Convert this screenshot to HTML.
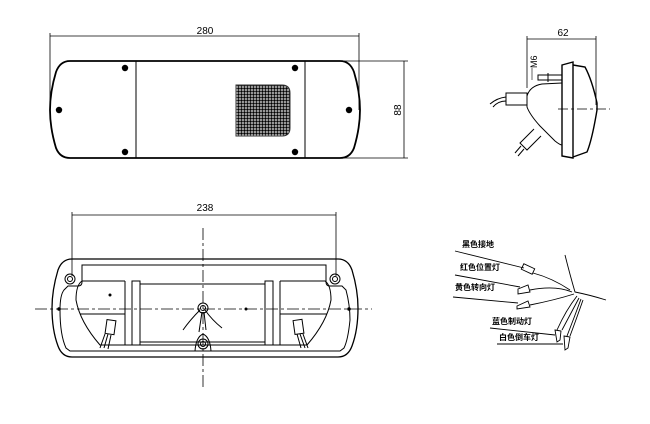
<!DOCTYPE html>
<html><head><meta charset="utf-8"><style>
html,body{margin:0;padding:0;background:#fff;width:650px;height:424px;overflow:hidden}
svg{display:block}
text{font-family:"Liberation Sans","Noto Sans CJK SC",sans-serif;fill:#000}
</style></head><body>
<svg width="650" height="424" viewBox="0 0 650 424" xmlns="http://www.w3.org/2000/svg">
<defs>
<pattern id="grid" width="3" height="3" patternUnits="userSpaceOnUse">
<rect width="3" height="3" fill="#fff"/><circle cx="1.5" cy="1.5" r="1.35" fill="#000"/>
</pattern>
</defs>
<g fill="none" stroke="#000" stroke-width="1">
<!-- TOP VIEW -->
<line x1="50" y1="36" x2="359" y2="36" stroke-width="0.8"/>
<line x1="50" y1="33" x2="50" y2="110" stroke-width="0.8"/>
<line x1="359" y1="33" x2="359" y2="110" stroke-width="0.8"/>
<path d="M70,61 L340,61 Q350,61 354,72 Q360,92 360,110 Q360,128 354,148 Q350,158 340,158 L70,158 Q60,158 56,148 Q50,128 50,110 Q50,92 56,72 Q60,61 70,61 Z" stroke-width="1.8"/>
<line x1="136" y1="61" x2="136" y2="158"/>
<line x1="305" y1="61" x2="305" y2="158"/>
<path d="M236,85 L282,85 Q290,85 290,93 L290,128 Q290,136 282,136 L236,136 Z" fill="url(#grid)" stroke="#333"/>
<line x1="340" y1="61" x2="408" y2="61" stroke-width="0.8"/>
<line x1="340" y1="158" x2="408" y2="158" stroke-width="0.8"/>
<line x1="404" y1="61" x2="404" y2="158" stroke-width="0.8"/>
</g>
<g fill="#000">
<circle cx="125" cy="68" r="3.2"/><circle cx="125" cy="152" r="3.2"/>
<circle cx="295" cy="68" r="3.2"/><circle cx="295" cy="152" r="3.2"/>
<circle cx="59" cy="110" r="3.2"/><circle cx="349" cy="110" r="3.2"/>
</g>
<text x="205" y="34" font-size="10" text-anchor="middle">280</text>
<text transform="translate(401,110) rotate(-90)" font-size="10" text-anchor="middle">88</text>

<!-- SIDE VIEW -->
<g fill="none" stroke="#000" stroke-width="1">
<line x1="527" y1="39" x2="596" y2="39" stroke-width="0.8"/>
<line x1="527" y1="36" x2="527" y2="88" stroke-width="0.8"/>
<line x1="596" y1="36" x2="596" y2="105" stroke-width="0.8"/>
<path d="M562,65 L573,62 L573,158 L562,156 Z" stroke-width="1.4"/>
<path d="M573,65 L585,67 Q592,80 597,103 L597,110 Q592,140 587,152 L573,157" stroke-width="1.4"/>
<line x1="558" y1="109" x2="610" y2="109" stroke-dasharray="10,3,3,3" stroke-width="0.8"/>
<path d="M562,83 L542,84 Q530,86 527,96 L527,107 Q530,115 540,126 L555,141 Q560,145 562,145"/>
<rect x="506" y="93" width="21" height="12"/>
<path d="M506,97 Q497,98 490,104 M506,101 Q498,101 493,107"/>
<path d="M534,129 L520,143 L527,150 L541,136"/>
<path d="M521,146 L515,153 M524,149 L518,156"/>
<rect x="538" y="75" width="24" height="5"/>
<line x1="548" y1="73" x2="548" y2="82"/>
<line x1="532" y1="68" x2="532" y2="80" stroke-width="0.6"/>
</g>
<text transform="translate(537,68) rotate(-90)" font-size="9">M6</text>
<text x="563" y="36" font-size="10" text-anchor="middle">62</text>

<!-- BOTTOM VIEW -->
<g fill="none" stroke="#000" stroke-width="1">
<line x1="72" y1="215" x2="336" y2="215" stroke-width="0.8"/>
<line x1="72" y1="212" x2="72" y2="276" stroke-width="0.8"/>
<line x1="336" y1="212" x2="336" y2="276" stroke-width="0.8"/>
<path d="M72,259 L338,259 Q348,259 352,270 Q358,290 358,308 Q358,330 352,346 Q348,357 338,357 L72,357 Q62,357 58,346 Q52,330 52,308 Q52,290 58,270 Q62,259 72,259 Z" stroke-width="1.3"/>
<path d="M82,265 L326,265 L326,282 Q326,286 330,286 L342,286 L346,290 Q350,305 350,320 Q348,340 344,348 L340,351 L70,351 L66,348 Q60,335 60,310 Q60,295 64,290 L68,286 L78,286 Q82,286 82,282 Z"/>
<path d="M125,281 L82,281 Q76,285 76,300 Q80,322 100,345 L125,345"/>
<line x1="80" y1="314" x2="125" y2="314"/>
<line x1="125" y1="281" x2="125" y2="345"/>
<rect x="132" y="281" width="8" height="64"/>
<rect x="140" y="284" width="125" height="58"/>
<rect x="265" y="281" width="8" height="64"/>
<path d="M280,281 L325,281 Q331,285 331,300 Q327,322 307,345 L280,345"/>
<line x1="280" y1="314" x2="327" y2="314"/>
<line x1="280" y1="281" x2="280" y2="345"/>
<line x1="125" y1="345" x2="280" y2="345"/>
<rect x="106" y="320" width="9" height="14" transform="rotate(8 110 327)"/>
<path d="M105,334 L100,348 M108,334 L104,348 M111,335 L108,349"/>
<rect x="294" y="320" width="9" height="14" transform="rotate(-8 298 327)"/>
<path d="M297,334 L301,348 M300,334 L305,348 M303,334 L308,348"/>
<path d="M195,351 Q196,337 203,334 Q210,337 211,351"/>
<path d="M200,310 Q190,320 183,330 M205,310 Q212,320 222,328 M202,312 L199,332 M204,312 L206,330"/>
<line x1="35" y1="309" x2="372" y2="309" stroke-dasharray="12,3,3,3" stroke-width="0.8"/>
<line x1="203" y1="228" x2="203" y2="388" stroke-dasharray="12,3,3,3" stroke-width="0.8"/>
<circle cx="70" cy="279" r="5"/><circle cx="70" cy="279" r="2.5"/>
<circle cx="335" cy="279" r="5"/><circle cx="335" cy="279" r="2.5"/>
<circle cx="203" cy="344" r="5"/><circle cx="203" cy="344" r="2.5"/>
<circle cx="203" cy="308" r="5"/><circle cx="203" cy="308" r="2.5"/>
</g>
<g fill="#000"><circle cx="110" cy="295" r="1.5"/><circle cx="246" cy="309" r="1.5"/><circle cx="59" cy="309" r="1.8"/><circle cx="349" cy="309" r="1.8"/></g>
<text x="205" y="211" font-size="10" text-anchor="middle">238</text>

<!-- WIRING -->
<g fill="none" stroke="#000" stroke-width="0.9">
<line x1="455" y1="251" x2="524" y2="268"/>
<line x1="455" y1="275" x2="520" y2="287"/>
<line x1="453" y1="297" x2="518" y2="303"/>
<line x1="490" y1="328" x2="555" y2="335"/>
<line x1="497" y1="344" x2="563" y2="344"/>
<rect x="522" y="266" width="12" height="6" transform="rotate(25 528 269)"/>
<path d="M518,289 L528,285 L530,292 L518,294 Z"/>
<path d="M517,306 L528,301 L530,307 L517,309 Z"/>
<path d="M533,273 Q552,278 570,290 M530,290 Q555,285 572,292 M530,305 Q555,300 574,294"/>
<path d="M577,296 Q566,310 557,330 M579,298 Q570,315 562,330 M581,299 Q574,318 567,336 M583,300 Q576,320 570,336"/>
<path d="M555,330 L561,331 L560,340 L557,342 Z M564,336 L570,337 L568,348 L565,350 Z"/>
<path d="M565,255 Q570,275 575,292 Q590,295 606,300"/>
</g>
<g font-size="8" font-weight="bold">
<text x="462" y="247">黑色接地</text>
<text x="460" y="270">红色位置灯</text>
<text x="455" y="290">黄色转向灯</text>
<text x="492" y="324">蓝色制动灯</text>
<text x="499" y="340">白色倒车灯</text>
</g>
</svg>
</body></html>
